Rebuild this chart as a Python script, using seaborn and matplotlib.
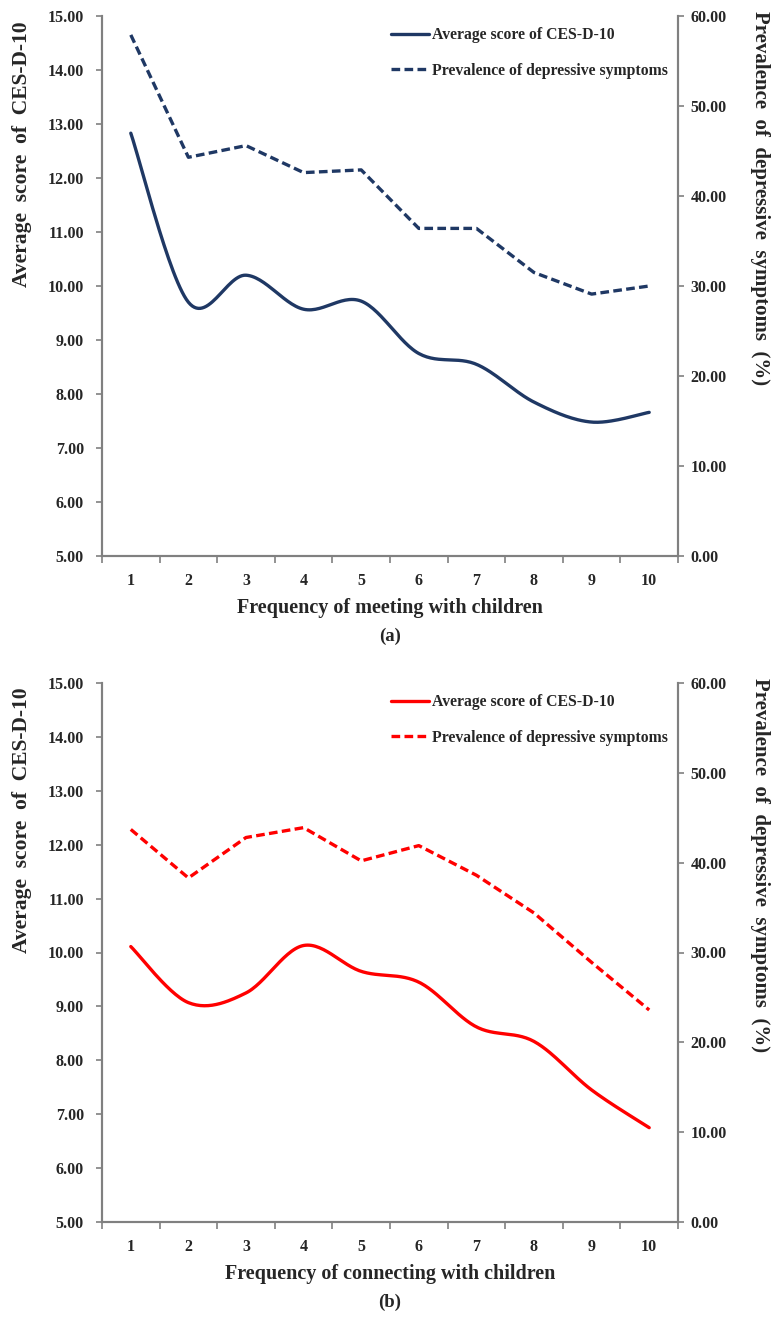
import numpy as np
import pandas as pd
import seaborn as sns
import matplotlib
matplotlib.use("Agg")
import matplotlib.pyplot as plt
from matplotlib.ticker import FixedLocator, NullFormatter, FixedFormatter

# ---------------- data ----------------
categories = [1, 2, 3, 4, 5, 6, 7, 8, 9, 10]
meet_score = [12.83, 9.70, 10.20, 9.57, 9.72, 8.75, 8.55, 7.85, 7.48, 7.66]
meet_prev = [57.9, 44.3, 45.6, 42.6, 42.9, 36.4, 36.4, 31.5, 29.1, 30.0]
conn_score = [10.11, 9.07, 9.25, 10.13, 9.65, 9.45, 8.62, 8.35, 7.45, 6.75]
conn_prev = [43.7, 38.3, 42.8, 43.9, 40.2, 41.9, 38.6, 34.4, 28.9, 23.6]
left_ticks = [5, 6, 7, 8, 9, 10, 11, 12, 13, 14, 15]
right_ticks = [0, 10, 20, 30, 40, 50, 60]
x_titles = ["Frequency of meeting with children", "Frequency of connecting with children"]
panel_tags = ["(a)", "(b)"]
legend_labels = ["Average score of CES-D-10", "Prevalence of depressive symptoms"]
left_label = "Average  score  of  CES-D-10"
right_label = "Prevalence  of  depressive  symptoms  (%)"

sns.set_theme(style="white")
plt.rcParams["font.family"] = ["Liberation Serif", "DejaVu Serif"]
plt.rcParams["font.weight"] = "bold"

W, H = 773, 1319
fig = plt.figure(figsize=(W / 100, H / 100), dpi=100)


def smooth(xs, ys, n=30):
    """Excel-like smoothed line (Catmull-Rom Bezier) through the data points."""
    p = np.column_stack([xs, ys]).astype(float)
    ext = np.vstack([p[0], p, p[-1]])
    out = []
    t = np.linspace(0, 1, n)[:, None]
    for i in range(len(p) - 1):
        p0, p1, p2, p3 = ext[i], ext[i + 1], ext[i + 2], ext[i + 3]
        c1 = p1 + (p2 - p0) / 6.0
        c2 = p2 - (p3 - p1) / 6.0
        seg = ((1 - t) ** 3) * p1 + 3 * ((1 - t) ** 2) * t * c1 + 3 * (1 - t) * t ** 2 * c2 + t ** 3 * p2
        out.append(seg if i == 0 else seg[1:])
    arr = np.vstack(out)
    return arr[:, 0], arr[:, 1]


def panel(top_px, bot_px, score, prev, color, xtitle, tag):
    left, right = 102, 678
    ax = fig.add_axes([left / W, 1 - bot_px / H, (right - left) / W, (bot_px - top_px) / H])
    ax2 = ax.twinx()
    sx, sy = smooth(categories, score)
    df_s = pd.DataFrame({"x": sx, "y": sy})
    df_p = pd.DataFrame({"x": categories, "y": prev})
    sns.lineplot(data=df_s, x="x", y="y", ax=ax, color=color, lw=2.4, sort=False,
                 estimator=None, legend=False)
    sns.lineplot(data=df_p, x="x", y="y", ax=ax2, color=color, lw=2.4, sort=False,
                 estimator=None, legend=False)
    ax2.lines[0].set_dashes([2.6, 1.3])

    ax.set_xlim(0.5, 10.5)
    ax.set_ylim(5, 15)
    ax2.set_ylim(0, 60)
    gray = "#808080"
    for a in (ax, ax2):
        a.spines["top"].set_visible(False)
        for s in ("left", "right", "bottom"):
            a.spines[s].set_color(gray)
            a.spines[s].set_linewidth(1.5)
        a.grid(False)
        a.set_facecolor("none")
    ax.set_yticks(left_ticks)
    ax.set_yticklabels([f"{v:.2f}" for v in left_ticks])
    ax2.set_yticks(right_ticks)
    ax2.set_yticklabels([f"{v:.2f}" for v in right_ticks])
    ax.tick_params(axis="y", direction="out", length=4, width=1.2, color=gray, pad=9,
                   labelsize=11.5, left=True)
    ax2.tick_params(axis="y", direction="out", length=4, width=1.2, color=gray, pad=5,
                    labelsize=11.5, right=True)
    ax.xaxis.set_major_locator(FixedLocator(categories))
    ax.xaxis.set_major_formatter(FixedFormatter([str(c) for c in categories]))
    ax.xaxis.set_minor_locator(FixedLocator(np.arange(0.5, 11, 1.0)))
    ax.xaxis.set_minor_formatter(NullFormatter())
    ax.tick_params(axis="x", which="major", length=0, pad=12, labelsize=11.5)
    ax.tick_params(axis="x", which="minor", direction="out", length=5, width=1.2,
                   color=gray, bottom=True)
    for lab in ax.get_xticklabels() + ax.get_yticklabels() + ax2.get_yticklabels():
        lab.set_fontweight("bold")

    ax.set_xlabel("")
    ax.set_ylabel("")
    ax2.set_ylabel("")
    h_ax = bot_px - top_px
    ax.text(-0.139, 0.745, left_label, transform=ax.transAxes, rotation=90,
            ha="center", va="center", fontsize=15.5, fontweight="bold")
    ax.text(1.142, 0.662, right_label, transform=ax.transAxes, rotation=270,
            ha="center", va="center", fontsize=15, fontweight="bold")
    ax.text(0.5, -(52 / h_ax), xtitle, transform=ax.transAxes, ha="center", va="center",
            fontsize=14.5, fontweight="bold")
    ax.text(0.5, -(80 / h_ax), tag, transform=ax.transAxes, ha="center", va="center",
            fontsize=13.5, fontweight="bold")

    handles = [ax.lines[0], ax2.lines[0]]
    ax.legend(handles, legend_labels, loc="upper right",
              bbox_to_anchor=((668 - 102) / 576, 1 - 11 / h_ax), frameon=False,
              borderpad=0, borderaxespad=0, handlelength=2.4, handletextpad=0.2,
              labelspacing=1.25, prop={"size": 11.3, "weight": "bold"})
    return ax, ax2


panel(16, 556, meet_score, meet_prev, "#1F3864", x_titles[0], panel_tags[0])
panel(683, 1222, conn_score, conn_prev, "#FF0000", x_titles[1], panel_tags[1])

fig.savefig("out.png", dpi=100, facecolor="white")
